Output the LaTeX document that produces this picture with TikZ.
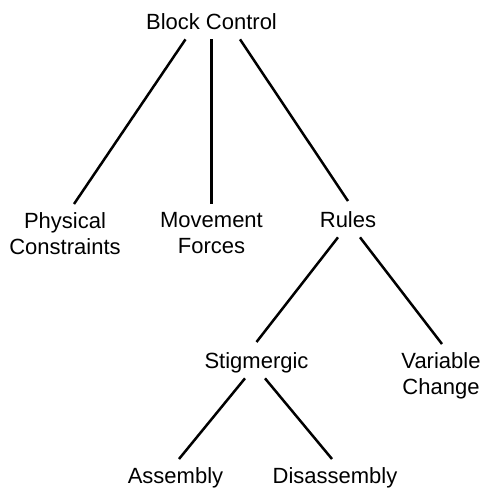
\documentclass[tikz,border=0pt]{standalone}
\usepackage{fontspec}
\setmainfont{Liberation Sans}
\usepackage{tikz}

\begin{document}
\begin{tikzpicture}[x=1pt,y=-1pt,
		branch/.style={font=\fontsize{22}{26}\selectfont, inner xsep=0pt, inner ysep=10pt, text depth=0pt, anchor=north},
		leaf/.style={font=\fontsize{22}{26}\selectfont, align=center, inner xsep=0pt, inner ysep=8pt, anchor=north},
		treeline/.style={line width=2.5pt}]
				\useasboundingbox (0,0) rectangle (486,488);
				
				\node[branch] (bc) at (211.5,3) {Block Control};
				
				\node[leaf] (pc) at (65,204) {Physical\\Constraints};
				\node[leaf] (mf) at (211.5,204) {Movement\\Forces};
				\node[branch] (ru) at (348,201) {Rules};
				
				\node[branch] (st) at (256.5,342) {Stigmergic};
				\node[leaf] (vc) at (441,344) {Variable\\Change};
				
				\node[leaf] (as) at (175.5,459) {Assembly};
				\node[leaf] (da) at (335,459) {Disassembly};
				
				\draw[treeline] ([xshift=-26pt]bc.south) -- ([xshift=9pt]pc.north);
				\draw[treeline] (bc.south) -- (mf.north);
				\draw[treeline] ([xshift=28.5pt]bc.south) -- (ru.north);
				
				\draw[treeline] ([xshift=-10pt]ru.south) -- (st.north);
				\draw[treeline] ([xshift=12pt]ru.south) -- ([xshift=1pt]vc.north);
				
				\draw[treeline] ([xshift=-11.5pt]st.south) -- ([xshift=3.5pt]as.north);
				\draw[treeline] ([xshift=8.5pt]st.south) -- ([xshift=-3pt]da.north);
			\end{tikzpicture}
\end{document}
